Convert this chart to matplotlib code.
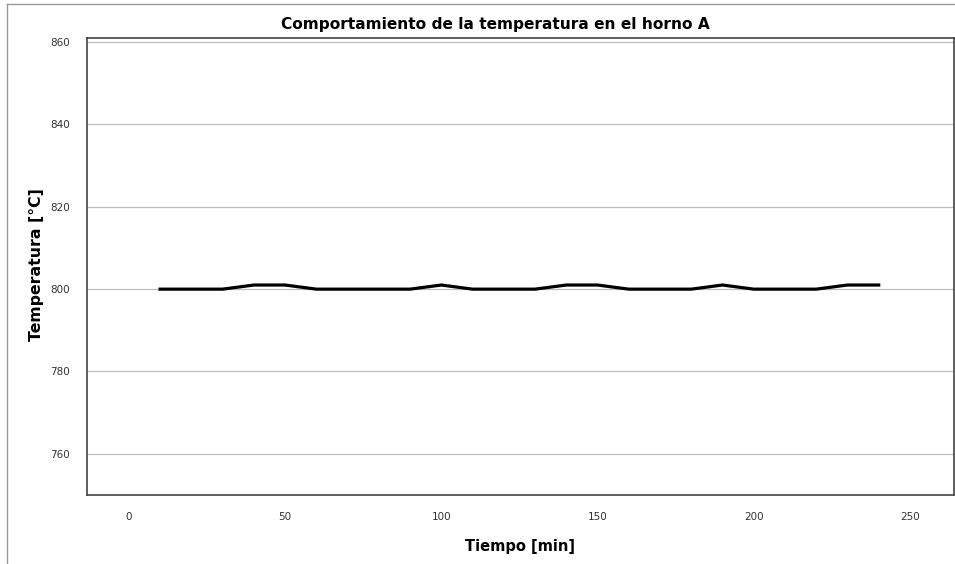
import matplotlib
matplotlib.use("Agg")
import matplotlib.pyplot as plt
from matplotlib.lines import Line2D

# oven A readings, every 10 minutes
tiempo = [10, 20, 30, 40, 50, 60, 70, 80, 90, 100, 110, 120,
          130, 140, 150, 160, 170, 180, 190, 200, 210, 220, 230, 240]
temperatura = [800, 800, 800, 801, 801, 800, 800, 800, 800, 801, 800, 800,
               800, 801, 801, 800, 800, 800, 801, 800, 800, 800, 801, 801]
yticks = [760, 780, 800, 820, 840, 860]
xticks = [0, 50, 100, 150, 200, 250]

W, H = 955, 564
fig = plt.figure(figsize=(W / 100, H / 100), dpi=100)
ax = fig.add_axes([87 / W, 1 - 495 / H, (954 - 87) / W, (495 - 38) / H])

ax.plot(tiempo, temperatura, color="black", lw=2.3, solid_joinstyle="miter", zorder=3)

ax.set_xlim(-13.4, 264.1)
ax.set_ylim(750, 861)
ax.set_yticks(yticks)
ax.set_xticks(xticks)
ax.grid(axis="y", color="#bdbdbd", lw=0.9)
ax.set_axisbelow(True)
ax.tick_params(length=0, labelsize=7.5, labelcolor="#333333", pad=12)
ax.tick_params(axis="x", pad=12)
for s in ax.spines.values():
    s.set_color("#444444")
    s.set_linewidth(1.2)

fig.text(495 / W, 1 - 24 / H, "Comportamiento de la temperatura en el horno A",
         ha="center", va="center", fontsize=11.1, fontweight="bold")
fig.text(520 / W, 1 - 546 / H, "Tiempo [min]", ha="center", va="center",
         fontsize=10.5, fontweight="bold")
fig.text(36 / W, 1 - 265 / H, "Temperatura [°C]", ha="center", va="center",
         rotation=90, fontsize=11.3, fontweight="bold")

# outer panel border
fig.add_artist(Line2D([7 / W, 1], [1 - 4 / H, 1 - 4 / H], color="#999999", lw=1))
fig.add_artist(Line2D([7 / W, 7 / W], [0, 1 - 4 / H], color="#999999", lw=1))

fig.savefig("out.png", dpi=100)
